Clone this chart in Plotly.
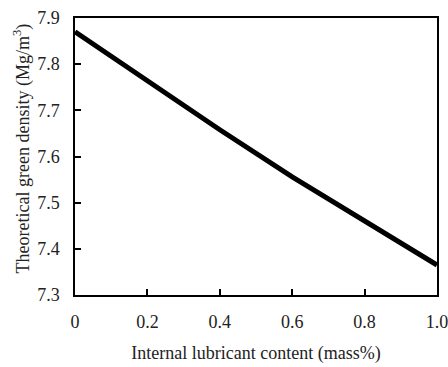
import plotly.graph_objects as go

lubricant = [0.0, 0.2, 0.4, 0.6, 0.8, 1.0]
density = [7.870, 7.763, 7.658, 7.556, 7.459, 7.365]
x_tickvals = [0, 0.2, 0.4, 0.6, 0.8, 1.0]
x_ticktext = ["0", "0.2", "0.4", "0.6", "0.8", "1.0"]
y_tickvals = [7.3, 7.4, 7.5, 7.6, 7.7, 7.8, 7.9]
y_ticktext = ["7.3", "7.4", "7.5", "7.6", "7.7", "7.8", "7.9"]

font = "Liberation Serif, Times New Roman, serif"

fig = go.Figure()
fig.add_trace(go.Scatter(x=lubricant, y=density, mode="lines",
                         line=dict(color="black", width=5), showlegend=False))

fig.update_layout(
    width=448, height=367,
    margin=dict(l=75, r=11, t=18, b=72),
    paper_bgcolor="white", plot_bgcolor="white",
    font=dict(family=font, size=18, color="#222"),
)
fig.update_xaxes(
    range=[0, 1.0], tickvals=x_tickvals, ticktext=x_ticktext,
    ticks="inside", ticklen=6, tickcolor="black", tickwidth=1.5,
    showline=True, linecolor="black", linewidth=1.5, mirror=True,
    showgrid=False, zeroline=False, ticklabelstandoff=10, automargin=False,
    ticklabeloverflow="allow",
    title=dict(text="Internal lubricant content (mass%)",
               font=dict(size=18)),
    tickfont=dict(size=18),
)
fig.update_yaxes(
    range=[7.3, 7.9], tickvals=y_tickvals, ticktext=y_ticktext,
    ticks="inside", ticklen=6, tickcolor="black", tickwidth=1.5,
    showline=True, linecolor="black", linewidth=1.5, mirror=True,
    showgrid=False, zeroline=False, ticklabelstandoff=10, automargin=False,
    ticklabeloverflow="allow",
    tickfont=dict(size=18),
)
fig.add_annotation(
    text="Theoretical green density (Mg/m<sup>3</sup>)",
    xref="paper", yref="paper", x=0, y=0.5,
    xanchor="center", yanchor="middle", textangle=-90,
    xshift=-53, yshift=8, showarrow=False,
    font=dict(family=font, size=18, color="#222"),
)

fig.write_html(
    "out.html",
    config={"displayModeBar": False},
    post_script="document.body.style.margin='0';document.body.style.overflow='hidden';",
)
